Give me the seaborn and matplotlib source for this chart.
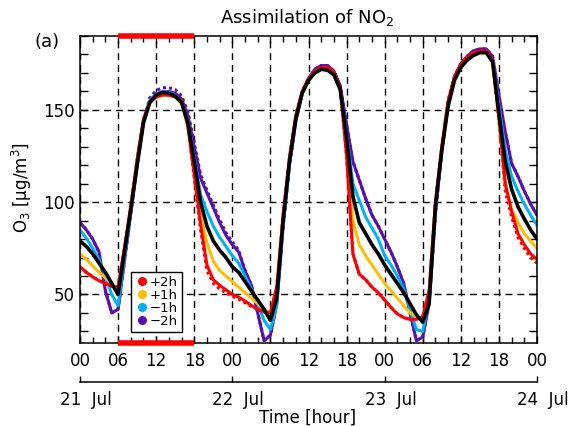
import numpy as np
import pandas as pd
import matplotlib
matplotlib.use("Agg")
import matplotlib.pyplot as plt
import matplotlib.transforms as mtransforms
from matplotlib.lines import Line2D
from matplotlib.ticker import MultipleLocator
import seaborn as sns

# ---------------- data ----------------
hours = list(range(73))

ctrl = [79, 76, 72, 67, 62, 56, 50, 73, 96, 120, 143, 154, 158, 159.5, 159, 157.5, 154, 143, 122, 100, 87, 79, 74, 70,
        65, 62, 57, 52, 47, 42, 36, 48, 90, 122, 145, 159, 166, 170, 172, 171.5, 169, 161, 135, 103, 89, 83, 77, 72,
        66, 61, 56, 51, 45, 39, 35, 45, 98, 128, 152, 166, 173, 177, 179.5, 181, 181, 176, 148, 122, 107, 97.5, 91, 85, 80]

plus2 = [65, 62, 59.5, 57.5, 56, 54.5, 54, 75, 98, 123, 145, 154, 157, 158, 158, 157, 155, 141, 115, 88, 66, 58, 55, 52.5,
         50, 48.5, 46.5, 44, 42, 40.5, 40, 54, 93, 124, 147, 160, 167, 171, 173, 173, 170.5, 162, 125, 72, 61, 58, 54, 51,
         47, 43, 39.5, 37.5, 36.5, 36.5, 38, 52, 100, 130, 155, 168, 174.5, 178.5, 181, 182, 182, 177, 146, 110, 95, 83, 77, 72, 69]

plus2_dash = [65, 62, 59.5, 57.5, 56, 54.5, 54, 75, 98, 123, 145, 154, 157, 158, 158, 157, 155, 141, 113, 85, 63, 56, 53, 51,
              49, 47.5, 45.5, 43.5, 42, 40.5, 40, 54, 93, 124, 147, 160, 167, 171, 173, 173, 170.5, 162, 125, 72, 61, 58, 54, 51,
              47, 43, 39.5, 37.5, 36.5, 36.5, 38, 52, 100, 130, 155, 168, 174.5, 178.5, 181, 182, 182, 177, 144, 106, 92, 81, 75, 70, 67]

plus1 = [72, 69, 65.5, 62, 59, 56, 53, 74, 97, 122, 144, 154, 157, 158, 158, 157, 153, 142, 118, 93, 78, 68, 63, 60,
         57, 54, 51, 48, 45, 42, 40, 52, 91, 123, 146, 159, 166, 170, 172, 172, 169.5, 161, 132, 90, 77, 71, 66, 61,
         56, 52, 48, 44, 40, 38, 37, 50, 99, 129, 154, 167, 173.5, 177, 179.5, 181, 180.5, 176, 145, 110, 96, 89, 83, 79, 75]

minus1 = [85, 80.5, 75, 69, 60, 50, 44, 70, 95, 121, 144, 155, 158.5, 160, 159.5, 158, 154, 144, 124, 104, 95, 87, 81, 76,
          71, 67, 60, 53, 45, 36, 31, 44, 88, 121, 145, 159, 166, 170, 172, 171.5, 169, 161, 137, 110, 101, 92, 86, 80,
          71, 66, 60, 53, 42, 31, 30, 47, 96, 128, 153, 167, 173.5, 177.5, 180, 181.5, 181, 177, 152, 128, 114, 106, 99, 93, 87.5]

minus2 = [89, 85, 80, 73, 52, 40, 42, 68, 94, 120, 143, 155, 158.5, 160, 160, 159, 156, 147, 130, 113, 105, 97, 89, 82,
          77, 73, 63, 55, 40, 25, 28, 45, 87, 120, 144, 159, 167, 172, 174, 174, 171, 163, 142, 122, 112, 102, 93, 87,
          80, 73, 65, 56, 40, 25, 27, 45, 94, 128, 153, 168, 175, 179, 182, 183, 183, 179, 158, 138, 121, 114, 106, 99, 93]

minus2_dash = [89, 85, 80, 73, 52, 40, 42, 68, 94, 120, 144, 156.5, 160.5, 162, 162, 161, 157.5, 149, 132, 115, 106.5, 98.5, 90.5, 83.5,
               78.5, 74, 63, 55, 40, 25, 28, 45, 87, 120, 144, 159, 167, 172, 174, 174, 171, 163, 142, 122, 112, 102, 93, 87,
               80, 73, 65, 56, 40, 25, 27, 45, 94, 128, 153, 168, 175, 179, 182, 183, 183, 179, 158, 138, 121, 114, 106, 99, 93]

legend_labels = ["+2h", "+1h", "\u22121h", "\u22122h"]
hour_tick_labels = ["00", "06", "12", "18"] * 3 + ["00"]
date_labels = ["21  Jul", "22  Jul", "23  Jul", "24  Jul"]
assim_window = [6, 18]

C_RED = "#ff0000"
C_ORA = "#ffbf00"
C_CYA = "#00b2f5"
C_PUR = "#5b0fb0"

# ---------------- figure ----------------
sns.set_style("ticks")
plt.rcParams["font.family"] = ["DejaVu Sans"]
plt.rcParams["mathtext.default"] = "regular"
plt.rcParams.update({
    "text.color": "black", "axes.labelcolor": "black",
    "xtick.direction": "in", "ytick.direction": "in",
    "xtick.top": True, "ytick.right": True,
    "xtick.bottom": True, "ytick.left": True,
    "xtick.major.size": 5, "xtick.minor.size": 4,
    "ytick.major.size": 5, "ytick.minor.size": 5,
    "xtick.major.width": 1, "xtick.minor.width": 1,
    "ytick.major.width": 1, "ytick.minor.width": 1,
    "xtick.color": "black", "ytick.color": "black",
    "xtick.labelcolor": "black", "ytick.labelcolor": "black",
})

fig = plt.figure(figsize=(5.71, 4.26), dpi=100)
W, H = 571, 426
ax = fig.add_axes([80 / W, 1 - 342.5 / H, 457 / W, (342.5 - 36) / H])

df = pd.DataFrame({"hour": hours, "ctrl": ctrl, "plus2": plus2, "plus2_dash": plus2_dash,
                   "plus1": plus1, "minus1": minus1, "minus2": minus2, "minus2_dash": minus2_dash})

dot = (0, (1.0, 1.0))
layers = [
    ("minus2_dash", C_PUR, dot, 2.2, 2),
    ("plus2_dash", C_RED, dot, 2.2, 2),
    ("minus2", C_PUR, "-", 2.2, 3),
    ("minus1", C_CYA, "-", 2.2, 3),
    ("plus1", C_ORA, "-", 2.2, 3),
    ("plus2", C_RED, "-", 2.2, 3),
    ("ctrl", "black", "-", 2.6, 4),
]
for col, colr, ls, lw, z in layers:
    sns.lineplot(data=df, x="hour", y=col, ax=ax, color=colr, linestyle=ls, lw=lw,
                 zorder=z, legend=False, errorbar=None)

ax.set_xlim(0, 72)
ax.set_ylim(24, 190)
ax.set_xticks(list(range(0, 73, 6)))
ax.set_xticklabels(hour_tick_labels)
ax.xaxis.set_minor_locator(MultipleLocator(2))
ax.set_yticks([50, 100, 150])
ax.yaxis.set_minor_locator(MultipleLocator(10))
ax.set_xlabel("")
ax.set_ylabel("")
ax.tick_params(which="both", direction="in", top=True, right=True, bottom=True, left=True,
               labelsize=12, width=1, color="black", labelcolor="black")
ax.tick_params(axis="x", which="major", length=5)
ax.tick_params(axis="x", which="minor", length=4)
ax.tick_params(axis="y", which="both", length=6)
ax.tick_params(axis="x", pad=7)
ax.tick_params(axis="y", pad=4)
ax.grid(True, which="major", color="black", linestyle=(0, (5, 3.5)), linewidth=1)
for s in ax.spines.values():
    s.set_linewidth(1.1)
    s.set_color("black")
    s.set_zorder(5)

# assimilation window bars
for yv in (190, 24):
    ax.plot(assim_window, [yv, yv], color=C_RED, lw=4, solid_capstyle="butt",
            clip_on=False, zorder=6)

# legend
handles = [Line2D([], [], marker="o", ls="none", color=c, markersize=5.5)
           for c in (C_RED, C_ORA, C_CYA, C_PUR)]
leg = fig.legend(handles, legend_labels, loc="upper left",
                 bbox_to_anchor=(131 / W, 1 - 272 / H), bbox_transform=fig.transFigure,
                 fontsize=9.5, handletextpad=0.1, labelspacing=0.0, borderpad=0.3,
                 handlelength=1.0, borderaxespad=0, fancybox=False, edgecolor="black",
                 framealpha=1)
leg.get_frame().set_linewidth(1)
leg.set_zorder(10)

# date axis
ax2 = fig.add_axes([80 / W, 1 - 381.5 / H, 457 / W, 0.0001])
ax2.set_xlim(0, 72)
ax2.set_xticks([0, 24, 48, 72])
ax2.set_xticklabels(date_labels)
ax2.set_yticks([])
for s in ("top", "left", "right"):
    ax2.spines[s].set_visible(False)
ax2.spines["bottom"].set_linewidth(1.1)
ax2.spines["bottom"].set_color("black")
ax2.patch.set_visible(False)
ax2.tick_params(axis="x", which="major", direction="in", top=False, bottom=True,
                length=4, width=1, labelsize=12, pad=7, color="black", labelcolor="black")
ax2.tick_params(axis="x", which="minor", bottom=False, top=False)
offset = mtransforms.ScaledTranslation(6 / 100, 0, fig.dpi_scale_trans)
for lbl in ax2.get_xticklabels():
    lbl.set_transform(lbl.get_transform() + offset)

fig.text(308 / W, 1 - 418 / H, "Time [hour]", ha="center", va="center", fontsize=12, color="black")
fig.text(22 / W, 1 - 187 / H, "O$_3$ [$\\mu$g/m$^3$]", rotation=90, ha="center",
         va="center", fontsize=12, color="black")
fig.text(307 / W, 1 - 17 / H, "Assimilation of NO$_2$", ha="center", va="center", fontsize=13,
         color="black")
fig.text(47 / W, 1 - 42 / H, "(a)", ha="center", va="center", fontsize=13, color="black")

fig.savefig("out.png", dpi=100)
